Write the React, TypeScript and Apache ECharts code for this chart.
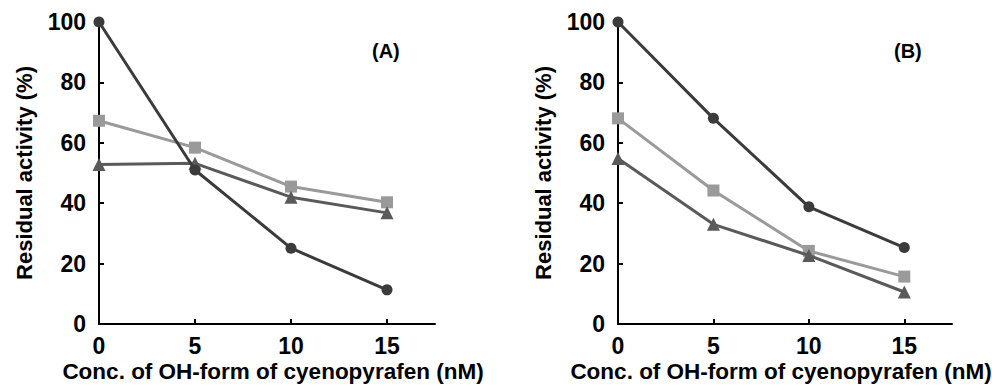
import React, { useEffect, useRef } from "react";
import * as echarts from "echarts";

const xValues = [0, 5, 10, 15];
const xTicks = [0, 5, 10, 15];
const yTicks = [0, 20, 40, 60, 80, 100];

const aCircle = [100, 51, 25.1, 11.3];
const aSquare = [67.3, 58.4, 45.5, 40.3];
const aTriangle = [52.8, 53.2, 42, 36.8];

const bCircle = [100, 68.1, 38.8, 25.3];
const bSquare = [68.1, 44.2, 24.2, 15.7];
const bTriangle = [54.8, 33, 22.7, 10.6];

const panelLabels = ["(A)", "(B)"];
const xTitle = "Conc. of OH-form of cyenopyrafen (nM)";
const yTitle = "Residual activity (%)";

const FONT = "'Liberation Sans', Arial, sans-serif";
const C_CIRCLE = "#3b3b3b";
const C_SQUARE = "#9a9a9a";
const C_TRI = "#5a5a5a";

function pairs(vals: number[]) {
  return xValues.map((x, i) => [x, vals[i]]);
}

export default function App() {
  const ref = useRef<HTMLDivElement>(null);
  useEffect(() => {
    if (!ref.current) return;
    const chart = echarts.init(ref.current, null, { renderer: "svg" });
    const grids = [
      { left: 99, top: 22, width: 336, height: 302, containLabel: false, outerBoundsMode: "none" },
      { left: 618, top: 22, width: 334, height: 302, containLabel: false, outerBoundsMode: "none" },
    ];
    const titlePads = [
      [0, 0, 0, 12],
      [0, 8, 0, 0],
    ];
    const axisLine = { show: true, lineStyle: { color: "#000", width: 2 } };
    const axisTick = { show: true, inside: true, length: 5, lineStyle: { color: "#000", width: 2 } };
    const labelStyle = { color: "#000", fontFamily: FONT, fontWeight: "bold" as const, fontSize: 23 };
    const xAxes = grids.map((_, i) => ({
      type: "value" as const,
      gridIndex: i,
      min: 0,
      max: 17.5,
      interval: 5,
      axisLine,
      axisTick,
      splitLine: { show: false },
      axisLabel: {
        ...labelStyle,
        lineHeight: 18,
        margin: 13,
        showMaxLabel: false,
        formatter: (v: number) => (xTicks.includes(v) ? String(v) : ""),
      },
      name: xTitle,
      nameLocation: "middle" as const,
      nameGap: 37,
      nameMoveOverlap: false,
      nameTextStyle: { ...labelStyle, fontSize: 22.5, lineHeight: 20, padding: titlePads[i] },
    }));
    const yAxes = grids.map((_, i) => ({
      type: "value" as const,
      gridIndex: i,
      min: 0,
      max: 100,
      interval: 20,
      axisLine,
      axisTick,
      splitLine: { show: false },
      axisLabel: {
        ...labelStyle,
        margin: 13,
        formatter: (v: number) => (yTicks.includes(v) ? String(v) : ""),
      },
      name: yTitle,
      nameLocation: "middle" as const,
      nameGap: 64,
      nameRotate: 90,
      nameMoveOverlap: false,
      nameTextStyle: { ...labelStyle, fontSize: 22 },
    }));
    const mk = (data: number[], idx: number, color: string, symbol: string, size: number, z: number) => ({
      type: "line" as const,
      xAxisIndex: idx,
      yAxisIndex: idx,
      data: pairs(data),
      symbol,
      symbolSize: size,
      showSymbol: true,
      z,
      lineStyle: { color, width: 3 },
      itemStyle: { color, borderWidth: 0 },
      emphasis: { disabled: true },
    });
    chart.setOption({
      animation: false,
      backgroundColor: "#fff",
      title: [
        { text: panelLabels[0], left: 367, top: 36, textStyle: { fontFamily: FONT, fontWeight: "bold", fontSize: 20, color: "#000" } },
        { text: panelLabels[1], left: 889, top: 36, textStyle: { fontFamily: FONT, fontWeight: "bold", fontSize: 20, color: "#000" } },
      ],
      grid: grids,
      xAxis: xAxes,
      yAxis: yAxes,
      series: [
        mk(aSquare, 0, C_SQUARE, "rect", 12, 2),
        mk(aTriangle, 0, C_TRI, "triangle", 13, 3),
        mk(aCircle, 0, C_CIRCLE, "circle", 11, 4),
        mk(bSquare, 1, C_SQUARE, "rect", 12, 2),
        mk(bTriangle, 1, C_TRI, "triangle", 13, 3),
        mk(bCircle, 1, C_CIRCLE, "circle", 11, 4),
      ],
    });
    return () => chart.dispose();
  }, []);
  return <div ref={ref} style={{ width: 992, height: 388, position: "absolute", left: 0, top: 0 }} />;
}
